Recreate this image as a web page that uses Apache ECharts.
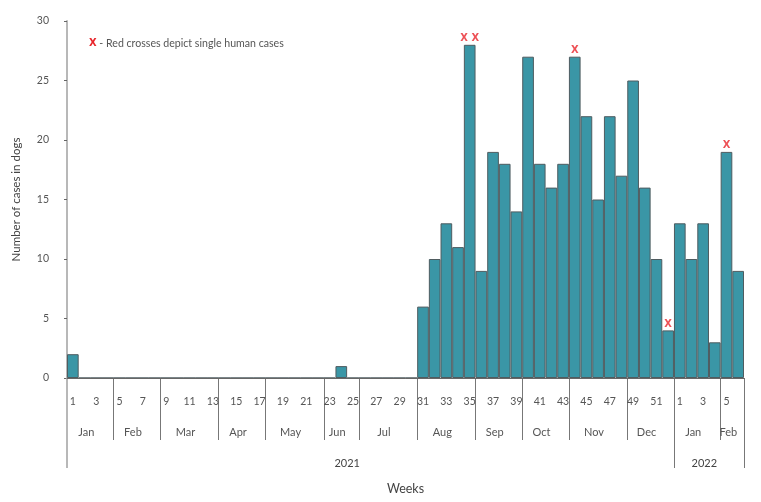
<!DOCTYPE html>
<html>
<head>
<meta charset="utf-8">
<script src="https://cdn.jsdelivr.net/npm/echarts@6/dist/echarts.min.js"></script>
<style>
html,body{margin:0;padding:0;background:#fff;}
#chart{width:761px;height:502px;}
</style>
</head>
<body>
<div id="chart"></div>
<script>
// Week categories: 2021 weeks 1-52, then 2022 weeks 1-6
const weekLabels = ['1','2','3','4','5','6','7','8','9','10','11','12','13','14','15','16','17','18','19','20',
  '21','22','23','24','25','26','27','28','29','30','31','32','33','34','35','36','37','38','39','40',
  '41','42','43','44','45','46','47','48','49','50','51','52',
  '1','2','3','4','5','6'];
// Number of cases in dogs per week
const dogCases = [2,0,0,0,0,0,0,0,0,0,0,0,0,0,0,0,0,0,0,0,
  0,0,0,1,0,0,0,0,0,0,6,10,13,11,28,9,19,18,14,27,
  18,16,18,27,22,15,22,17,25,16,10,4,
  13,10,13,3,19,9];
// Human cases (red crosses): category index and count
const humanWeekIndex = [34, 43, 51, 56];
const humanCounts = [2, 1, 1, 1];
// Month groups (boundaries in weeks from start) and names
const monthBounds = [0,4,8,13,17,22,25,30,35,39,43,48,52,56,58];
const monthNames = ['Jan','Feb','Mar','Apr','May','Jun','Jul','Aug','Sep','Oct','Nov','Dec','Jan','Feb'];
const yearBounds = [52,58];
const yearLabelPos = [24, 54.6];
const yearNames = ['2021','2022'];

const FONT = 'Lato';
const XFONT = '"DejaVu Sans Condensed", "Liberation Sans", sans-serif';
const monthMid = monthNames.map((m,i)=> (monthBounds[i]+monthBounds[i+1])/2 - 0.35);

const chart = echarts.init(document.getElementById('chart'), null, {renderer:'canvas'});
const option = {
  animation: false,
  textStyle: {fontFamily: FONT},
  title: {
    left: 84, top: 33,
    text: '{x|X} - Red crosses depict single human cases',
    textStyle: {
      fontFamily: FONT, fontSize: 10.6, fontWeight: 'normal', color: '#555',
      rich: {x: {color: '#e8262c', fontWeight: 'bold', fontSize: 11, fontFamily: XFONT}}
    }
  },
  grid: {left: 67, right: 17, top: 21, bottom: 124, containLabel: false},
  xAxis: [
    {
      type: 'category', data: weekLabels, position: 'bottom',
      boundaryGap: true,
      axisLine: {show: true, lineStyle: {color: '#666', width: 1}},
      axisTick: {show: false},
      axisLabel: {interval: 1, margin: 18, fontSize: 10.5, color: '#555', fontFamily: FONT},
      splitLine: {show: false},
      name: 'Weeks', nameLocation: 'middle', nameGap: 104,
      nameTextStyle: {fontSize: 12.5, color: '#444', fontFamily: FONT},
      z: 5
    },
    {
      type: 'value', min: 0, max: 58, position: 'bottom',
      axisLine: {show: false},
      splitLine: {show: false},
      axisTick: {show: true, inside: false, length: 62, customValues: monthBounds.slice(1, -1).filter(v => yearBounds.indexOf(v) < 0),
        lineStyle: {color: '#777', width: 1}},
      axisLabel: {show: true, margin: 49, fontSize: 11, color: '#555', fontFamily: FONT,
        customValues: monthMid,
        formatter: (v) => monthNames[monthMid.indexOf(v)] }
    },
    {
      type: 'value', min: 0, max: 58, position: 'bottom',
      axisLine: {show: false},
      splitLine: {show: false},
      axisTick: {show: true, inside: false, length: 90, customValues: yearBounds,
        lineStyle: {color: '#777', width: 1}},
      axisLabel: {show: true, margin: 80, fontSize: 11, color: '#444', fontFamily: FONT,
        customValues: yearLabelPos,
        formatter: (v) => yearNames[yearLabelPos.indexOf(v)] }
    },
    {
      type: 'value', min: 0, max: 58, position: 'bottom',
      axisLine: {show: false},
      splitLine: {show: false},
      axisTick: {show: true, inside: false, length: 90, customValues: [0],
        lineStyle: {color: '#b8b8b8', width: 2}},
      axisLabel: {show: false}
    }
  ],
  yAxis: {
    type: 'value', min: 0, max: 30, interval: 5,
    name: 'Number of cases in dogs', nameLocation: 'middle', nameGap: 45,
    nameTextStyle: {fontSize: 11.5, color: '#444', fontFamily: FONT},
    axisLine: {show: true, lineStyle: {color: '#b8b8b8', width: 2}},
    axisTick: {show: true, length: 3, lineStyle: {color: '#666'}},
    axisLabel: {margin: 18, fontSize: 10.5, color: '#555', fontFamily: FONT},
    splitLine: {show: false}
  },
  series: [
    {
      type: 'bar', xAxisIndex: 0, yAxisIndex: 0,
      data: dogCases,
      barCategoryGap: '0%',
      itemStyle: {color: '#3a96a6', borderColor: '#4f5c60', borderWidth: 1},
      z: 2
    },
    {
      type: 'scatter', xAxisIndex: 0, yAxisIndex: 0,
      symbolSize: 0,
      data: humanWeekIndex.map((w, i) => [w, dogCases[w], humanCounts[i]]),
      label: {
        show: true, position: 'top', distance: 1,
        formatter: p => Array(p.value[2]).fill('X').join(' '),
        color: '#e8262c', fontWeight: 'bold', fontSize: 11, fontFamily: XFONT
      },
      z: 6
    }
  ]
};
chart.setOption(option);
</script>
</body>
</html>
